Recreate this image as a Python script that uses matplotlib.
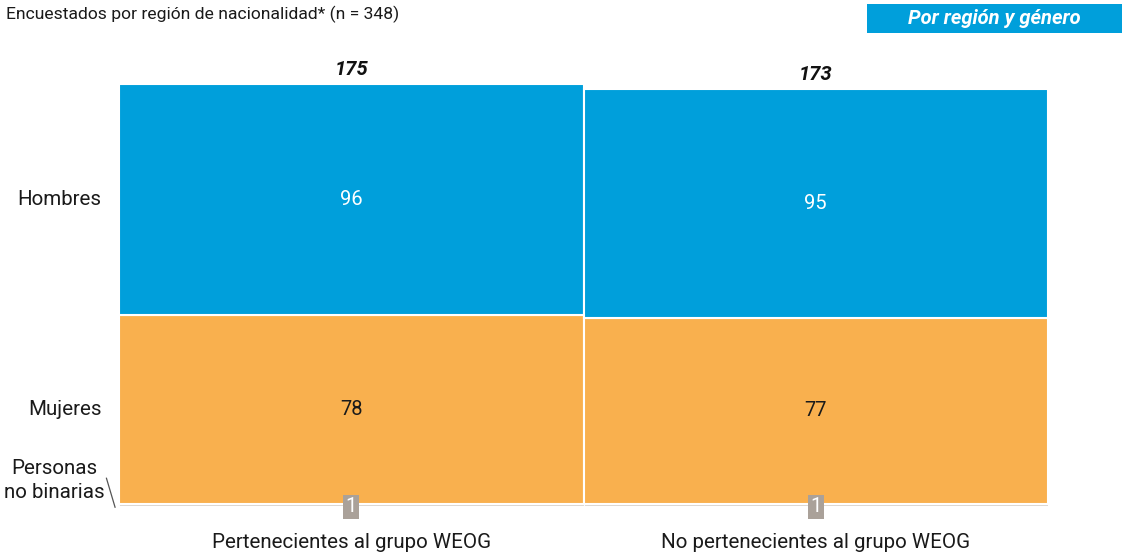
import numpy as np
import matplotlib.pyplot as plt

plt.rcParams['font.family'] = ['Roboto', 'DejaVu Sans']

grupos = ['Pertenecientes al grupo WEOG', 'No pertenecientes al grupo WEOG']
hombres = [96, 95]
mujeres = [78, 77]
no_binarias = [1, 1]
totales = [175, 173]

azul = '#009fdb'
naranja = '#f9b04e'
gris = '#dcd7d2'
negro = '#1a1a1a'

W, H = 1122, 552
fig = plt.figure(figsize=(W / 100, H / 100), dpi=100)
ax = fig.add_axes([119 / W, (H - 506) / H, (1048 - 119) / W, (506 - 84) / H])

x = np.arange(len(grupos))
nb = np.array(no_binarias)
mu = np.array(mujeres)
ho = np.array(hombres)

ax.bar(x, nb, width=1, color=gris, edgecolor='white', linewidth=0.6)
ax.bar(x, mu, bottom=nb, width=1, color=naranja, edgecolor='white', linewidth=1.5)
ax.bar(x, ho, bottom=nb + mu, width=1, color=azul, edgecolor='white', linewidth=1.5)

ax.set_xlim(-0.5, 1.5)
ax.set_ylim(0, 175)
ax.axis('off')

for i in range(len(grupos)):
    ax.text(x[i], nb[i] + mu[i] + ho[i] / 2, str(ho[i]), ha='center', va='center',
            color='white', fontsize=14.5)
    ax.text(x[i], nb[i] + mu[i] / 2, str(mu[i]), ha='center', va='center',
            color=negro, fontsize=14.5)
    ax.text(x[i], -0.3, str(nb[i]), ha='center', va='center', color='white', fontsize=14.5,
            bbox=dict(boxstyle='square,pad=0.12', facecolor='#aaa199', edgecolor='none'))
    ax.text(x[i], totales[i] + 2.2, str(totales[i]), ha='center', va='bottom',
            fontsize=14.5, fontweight='bold', fontstyle='italic', color='#111111')
    ax.text(x[i], -11.3, grupos[i], ha='center', va='top', fontsize=14.8, color=negro,
            clip_on=False)

# etiquetas de categorias a la izquierda (segun la primera barra)
ax.text(-0.5375, nb[0] + mu[0] + ho[0] / 2, 'Hombres', ha='right', va='center',
        fontsize=14.8, color=negro)
ax.text(-0.5375, nb[0] + mu[0] / 2, 'Mujeres', ha='right', va='center', fontsize=14.8,
        color=negro)
ax.text(-0.6385, 10.5, 'Personas\nno binarias', ha='center', va='center', fontsize=14.8,
        color=negro, linespacing=1.3, multialignment='center')
ax.plot([-0.527, -0.5085], [11.5, -0.5], color='#555555', lw=0.9, clip_on=False)

fig.text(6 / W, 1 - 14 / H, 'Encuestados por región de nacionalidad* (n = 348)',
         ha='left', va='center', fontsize=12.6, color=negro)
fig.text(994 / W, 1 - 18.5 / H, 'Por región y género', ha='center', va='center',
         fontsize=14.5, fontweight='bold', fontstyle='italic', color='white')
fig.patches.append(plt.Rectangle((867 / W, 1 - 33 / H), (1122 - 867) / W, 29 / H,
                                 transform=fig.transFigure, facecolor=azul,
                                 edgecolor='none', zorder=0))

fig.savefig('out.png', dpi=100)
